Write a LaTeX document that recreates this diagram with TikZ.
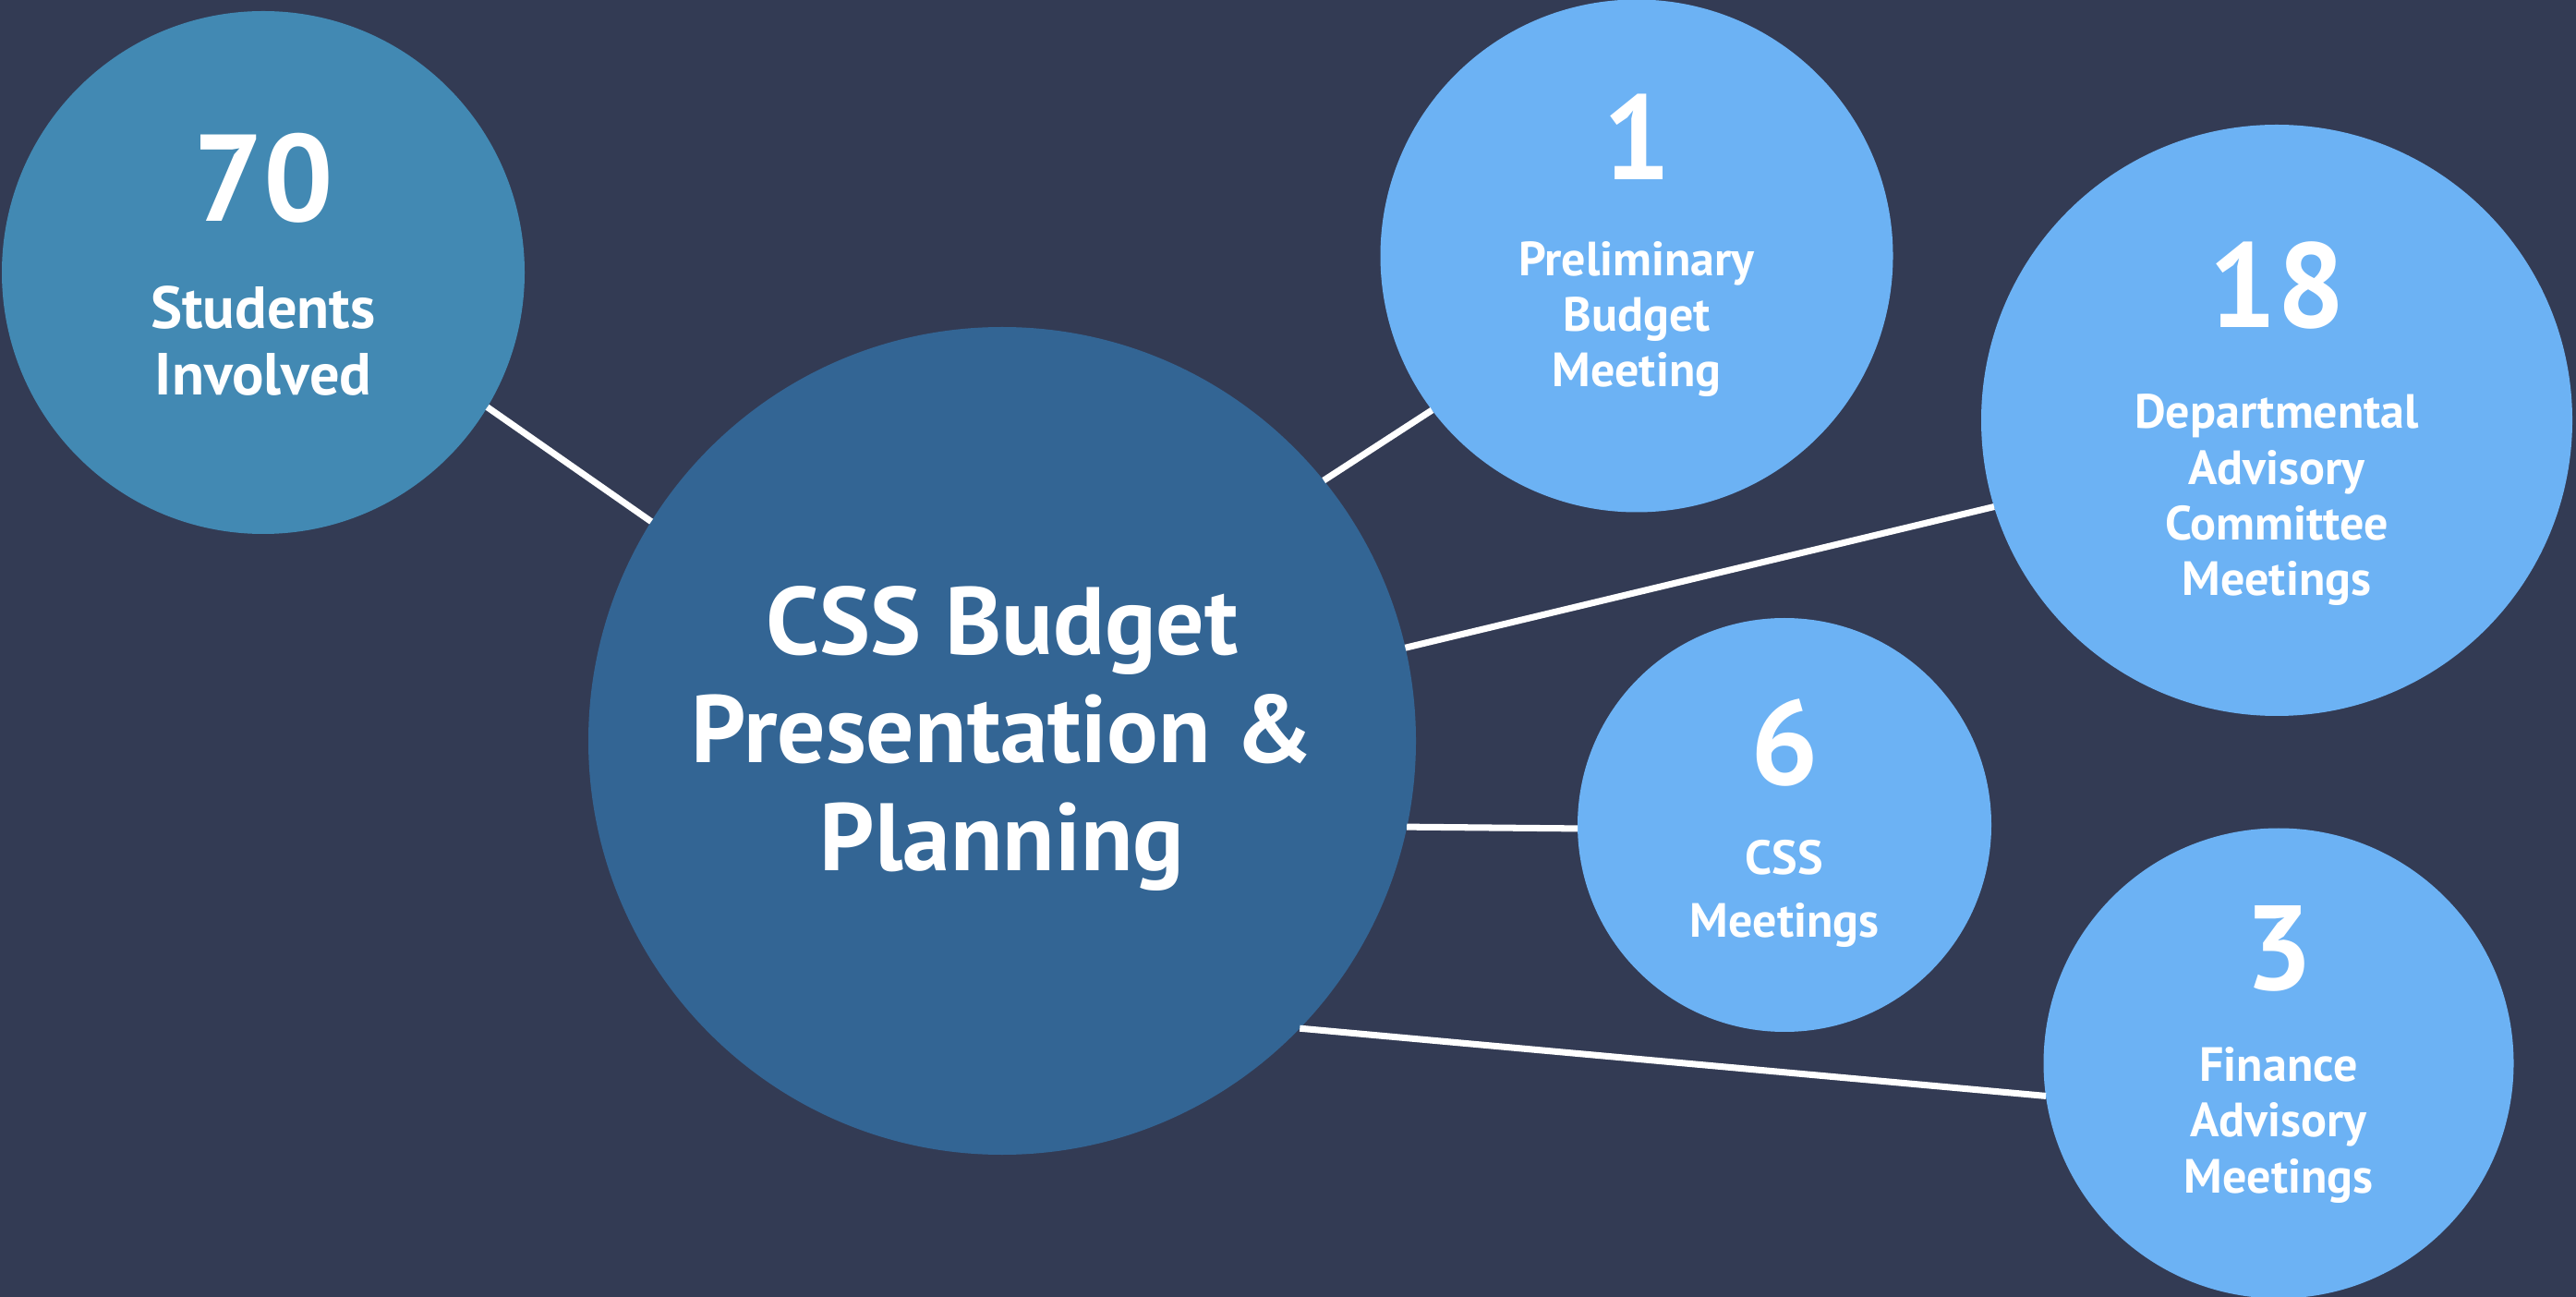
\documentclass[tikz,border=0pt]{standalone}
\usepackage{xcolor}
\usepackage{fontspec}
\setmainfont{PT Sans}
\usepackage{tikz}
\usetikzlibrary{shapes.geometric, positioning}
\definecolor{night}{HTML}{333B54}
\definecolor{teal}{HTML}{4289B3}
\definecolor{deepblue}{HTML}{336594}
\definecolor{skyblue}{HTML}{6CB2F4}
\tikzstyle{bubble} = [circle, inner sep=0pt, outer sep=0pt]
\tikzstyle{bignum} = [anchor=base, text=white, font=\bfseries\fontsize{37}{40}\selectfont]
\tikzstyle{smalltext} = [anchor=base, text=white, align=center, font=\bfseries\fontsize{14.8}{17.2}\selectfont]
\tikzstyle{link} = [white, line width=2pt]

\begin{document}
\begin{tikzpicture}
        % Background
        \fill [night] (0,0) rectangle (27.89,-14.04);
        \useasboundingbox (0,0) rectangle (27.89,-14.04);

        % Circles
        \node [bubble, fill=teal, minimum size=5.66cm] (students) at (2.85,-2.95) {};
        \node [bubble, fill=deepblue, minimum size=8.96cm] (main) at (10.85,-8.02) {};
        \node [bubble, fill=skyblue, minimum size=5.55cm] (prelim) at (17.72,-2.77) {};
        \node [bubble, fill=skyblue, minimum size=6.40cm] (dept) at (24.65,-4.55) {};
        \node [bubble, fill=skyblue, minimum size=4.48cm] (cssmeet) at (19.32,-8.93) {};
        \node [bubble, fill=skyblue, minimum size=5.09cm] (finance) at (24.67,-11.51) {};

        % Texts (base = last line)
        \node [bignum, font=\bfseries\fontsize{38}{40}\selectfont] (students_num) at ([yshift=0.55cm]students.center) {70};
        \node [smalltext, font=\bfseries\fontsize{18.3}{20.7}\selectfont] (students_txt) at ([yshift=-1.33cm]students.center) {Students\\Involved};
        \node [smalltext, font=\bfseries\fontsize{29.5}{33.2}\selectfont] (main_txt) at ([yshift=-1.40cm]main.center) {CSS Budget\\Presentation \&\\Planning};
        \node [bignum] (prelim_num) at ([yshift=0.82cm]prelim.center) {1};
        \node [smalltext] (prelim_txt) at ([yshift=-1.42cm]prelim.center) {Preliminary\\Budget\\Meeting};
        \node [bignum] (dept_num) at ([yshift=1.0cm]dept.center) {18};
        \node [smalltext] (dept_txt) at ([yshift=-1.90cm]dept.center) {Departmental\\Advisory\\Committee\\Meetings};
        \node [bignum] (cssmeet_num) at ([yshift=0.43cm]cssmeet.center) {6};
        \node [smalltext] (cssmeet_txt) at ([yshift=-1.21cm]cssmeet.center) {CSS\\[2pt]Meetings};
        \node [bignum] (finance_num) at ([yshift=0.8cm]finance.center) {3};
        \node [smalltext] (finance_txt) at ([yshift=-1.40cm]finance.center) {Finance\\Advisory\\Meetings};

        % Lines
        \draw [link] (students.-31.7) -- (main.148.8);
        \draw [link] (main.39.7) -- (prelim.217.7);
        \draw [link] (main.13.1) -- (dept.197.7);
        \draw [link] (main.-12.2) -- (cssmeet.181.4);
        \draw [link] (main.-44.7) -- (finance.188.4);
    \end{tikzpicture}
\end{document}
